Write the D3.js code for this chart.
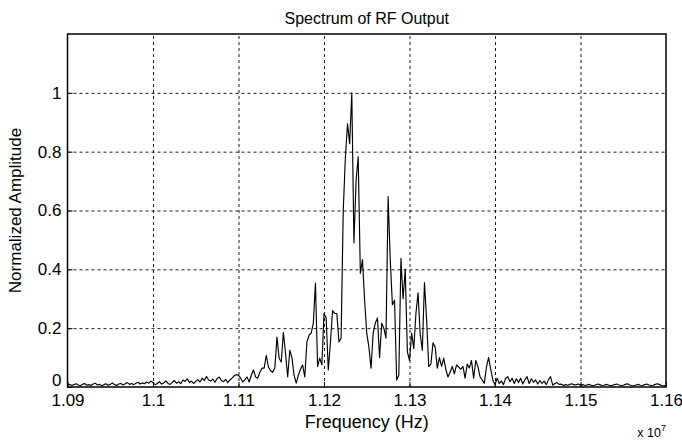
<!DOCTYPE html>
<html>
<head>
<meta charset="utf-8">
<script src="https://cdn.jsdelivr.net/npm/d3@7"></script>
<style>
  body { margin: 0; background: #fff; }
  svg text { font-family: "Liberation Sans", Arial, Helvetica, sans-serif; fill: #000; }
</style>
</head>
<body>
<svg id="chart"></svg>
<script>
const width = 682;
const height = 445;

// spectrum bins: start frequency + bin width (Hz), one amplitude per bin
const freqStartHz = 1.09e7;
const binWidthHz = 2500;

// normalized amplitude, left to right
const amplitude = [
    0.006,0.009,0.005,0.008,0.011,0.007,0.004,0.009,0.012,0.006,
    0.008,0.005,0.010,0.013,0.007,0.009,0.004,0.008,0.011,0.006,
    0.009,0.014,0.008,0.005,0.010,0.012,0.007,0.011,0.015,0.009,
    0.012,0.008,0.013,0.016,0.010,0.014,0.011,0.017,0.013,0.020,
    0.015,0.008,0.012,0.018,0.010,0.014,0.021,0.012,0.009,0.016,
    0.022,0.013,0.018,0.011,0.024,0.019,0.028,0.015,0.020,0.012,
    0.019,0.025,0.017,0.030,0.022,0.036,0.024,0.020,0.027,0.016,
    0.029,0.034,0.022,0.018,0.026,0.015,0.024,0.030,0.038,0.042,
    0.040,0.030,0.017,0.025,0.034,0.017,0.040,0.058,0.034,0.030,
    0.050,0.064,0.064,0.108,0.068,0.055,0.050,0.065,0.170,0.098,
    0.085,0.186,0.115,0.034,0.125,0.100,0.040,0.013,0.040,0.060,
    0.075,0.034,0.153,0.176,0.183,0.217,0.353,0.070,0.098,0.075,
    0.250,0.235,0.058,0.150,0.260,0.250,0.250,0.153,0.166,0.600,
    0.780,0.895,0.827,1.000,0.490,0.700,0.783,0.386,0.433,0.295,
    0.183,0.136,0.064,0.183,0.217,0.235,0.100,0.217,0.200,0.166,
    0.647,0.430,0.280,0.295,0.024,0.040,0.437,0.300,0.400,0.120,
    0.090,0.183,0.130,0.250,0.320,0.180,0.125,0.355,0.230,0.070,
    0.078,0.150,0.136,0.064,0.100,0.070,0.098,0.060,0.034,0.050,
    0.070,0.045,0.075,0.068,0.060,0.070,0.030,0.078,0.065,0.090,
    0.030,0.090,0.070,0.035,0.024,0.013,0.068,0.100,0.060,0.024,
    0.007,0.030,0.012,0.020,0.008,0.030,0.035,0.018,0.030,0.012,
    0.028,0.015,0.030,0.010,0.025,0.035,0.012,0.028,0.016,0.024,
    0.010,0.022,0.012,0.020,0.008,0.025,0.035,0.006,0.012,0.015,
    0.009,0.010,0.005,0.008,0.006,0.009,0.011,0.007,0.008,0.010,
    0.006,0.008,0.005,0.007,0.009,0.006,0.004,0.007,0.010,0.008,
    0.005,0.006,0.009,0.007,0.004,0.006,0.008,0.010,0.007,0.005,
    0.006,0.009,0.011,0.007,0.005,0.004,0.007,0.009,0.006,0.005,
    0.008,0.010,0.007,0.005,0.006,0.009,0.011,0.008,0.005,0.004,
    0.006
];

const xTicksHz = [1.09e7, 1.10e7, 1.11e7, 1.12e7, 1.13e7, 1.14e7, 1.15e7, 1.16e7];
const xTickLabels = ["1.09", "1.1", "1.11", "1.12", "1.13", "1.14", "1.15", "1.16"];
const yTicks = [0, 0.2, 0.4, 0.6, 0.8, 1];

const margin = { top: 34, right: 16, bottom: 58, left: 67.5 };
const innerW = width - margin.left - margin.right;
const innerH = height - margin.top - margin.bottom;

const svg = d3.select("#chart")
    .attr("width", width)
    .attr("height", height);

const g = svg.append("g")
    .attr("transform", `translate(${margin.left},${margin.top})`);

const x = d3.scaleLinear()
    .domain([1.09e7, 1.16e7])
    .range([0, innerW]);

const y = d3.scaleLinear()
    .domain([0, 1.2])
    .range([innerH, 0]);

// dashed grid (skip lines that sit on the frame)
g.append("g")
    .attr("class", "grid-x")
    .attr("transform", `translate(0,${innerH})`)
    .call(d3.axisBottom(x).tickValues(xTicksHz.slice(1, -1)).tickSize(-innerH).tickFormat(""))
    .call(a => a.select(".domain").remove())
    .selectAll("line")
    .attr("stroke", "#000")
    .attr("stroke-width", 0.9)
    .attr("stroke-dasharray", "3,3");

g.append("g")
    .attr("class", "grid-y")
    .call(d3.axisLeft(y).tickValues(yTicks.slice(1)).tickSize(-innerW).tickFormat(""))
    .call(a => a.select(".domain").remove())
    .selectAll("line")
    .attr("stroke", "#000")
    .attr("stroke-width", 0.9)
    .attr("stroke-dasharray", "3,3");

// spectrum trace
const line = d3.line()
    .x((d, i) => x(freqStartHz + i * binWidthHz))
    .y(d => y(d));

g.append("path")
    .datum(amplitude)
    .attr("fill", "none")
    .attr("stroke", "#000")
    .attr("stroke-width", 1.15)
    .attr("stroke-linejoin", "round")
    .attr("d", line);

// axes with inward ticks, MATLAB style
g.append("g")
    .attr("transform", `translate(0,${innerH})`)
    .call(d3.axisBottom(x).tickValues(xTicksHz).tickSize(-5).tickPadding(7)
        .tickFormat((d, i) => xTickLabels[i]))
    .call(a => a.select(".domain").remove())
    .call(a => a.selectAll("line").attr("stroke", "#000"))
    .selectAll("text")
    .attr("font-size", "17px");

// the "0" label sits a little higher so it clears "1.09"
g.append("g")
    .call(d3.axisLeft(y).tickValues(yTicks).tickSize(-5).tickPadding(6)
        .tickFormat(d3.format("")))
    .call(a => a.select(".domain").remove())
    .call(a => a.selectAll("line").attr("stroke", "#000"))
    .selectAll("text")
    .attr("font-size", "17px")
    .attr("dy", d => d === 0 ? "-0.08em" : "0.32em");

// box around the axes
g.append("rect")
    .attr("width", innerW)
    .attr("height", innerH)
    .attr("fill", "none")
    .attr("stroke", "#000")
    .attr("stroke-width", 1.5);

// title and labels
svg.append("text")
    .attr("x", margin.left + innerW / 2)
    .attr("y", 24)
    .attr("text-anchor", "middle")
    .attr("font-size", "16px")
    .text("Spectrum of RF Output");

svg.append("text")
    .attr("x", margin.left + innerW / 2)
    .attr("y", 428)
    .attr("text-anchor", "middle")
    .attr("font-size", "18px")
    .text("Frequency (Hz)");

svg.append("text")
    .attr("transform", `translate(21,${margin.top + innerH / 2}) rotate(-90)`)
    .attr("text-anchor", "middle")
    .attr("font-size", "17px")
    .text("Normalized Amplitude");

const expo = svg.append("text")
    .attr("x", 666)
    .attr("y", 437)
    .attr("text-anchor", "end")
    .attr("font-size", "12.5px");
expo.append("tspan").text("x 10");
expo.append("tspan").attr("dy", -6).attr("font-size", "9px").text("7");
</script>
</body>
</html>
